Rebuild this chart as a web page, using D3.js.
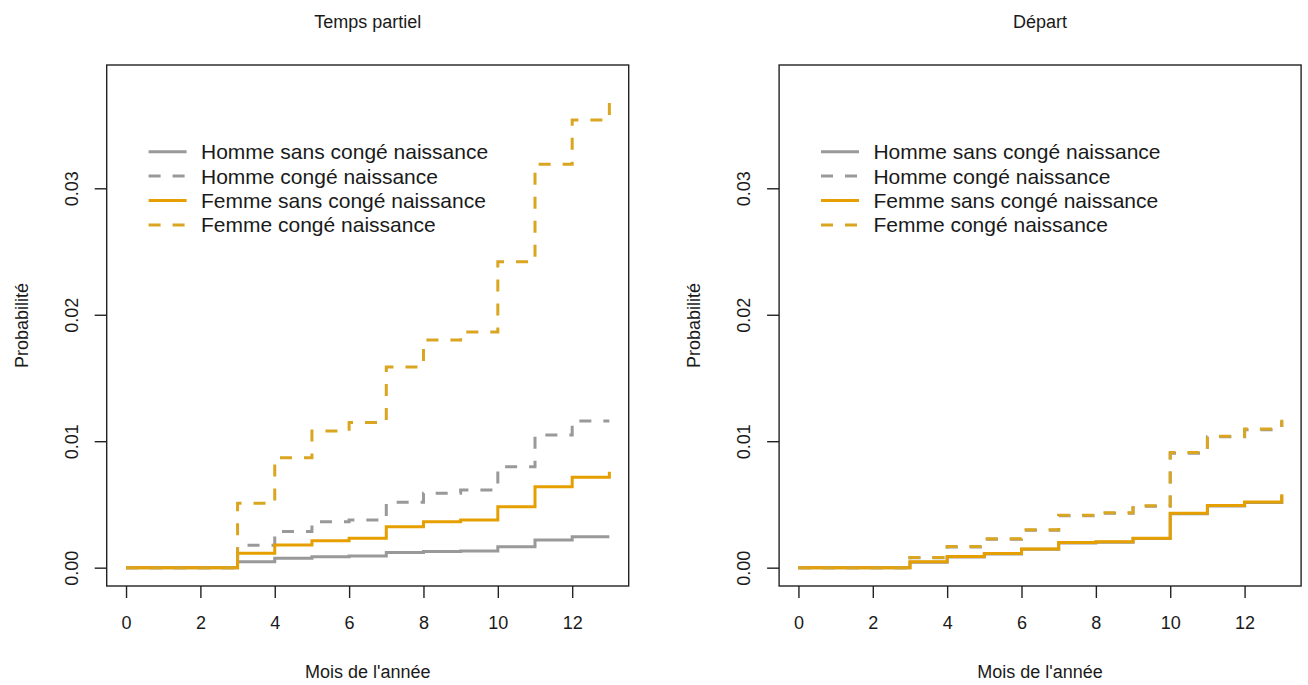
<!DOCTYPE html>
<html>
<head>
<meta charset="utf-8">
<script src="https://cdnjs.cloudflare.com/ajax/libs/d3/7.8.5/d3.min.js"></script>
<style>
  html, body { margin: 0; padding: 0; background: #fff; }
  svg text { font-family: "Liberation Sans", Arial, sans-serif; fill: #1a1a1a; }
</style>
</head>
<body>
<svg id="chart" width="1308" height="685"></svg>
<script>
// ---- data ----
const months = [0, 1, 2, 3, 4, 5, 6, 7, 8, 9, 10, 11, 12, 13];
const xTicks = [0, 2, 4, 6, 8, 10, 12];
const yTicks = [0, 0.01, 0.02, 0.03];
const panelTitles = ["Temps partiel", "Départ"];
const seriesNames = ["Homme sans congé naissance", "Homme congé naissance",
                     "Femme sans congé naissance", "Femme congé naissance"];

// Temps partiel
const tpHommeSans  = [0, 0, 0, 0.00047, 0.00074, 0.00087, 0.00092, 0.00119, 0.00127, 0.00132, 0.00166, 0.00219, 0.00245, 0.00245];
const tpHommeConge = [0, 0, 0, 0.00178, 0.00285, 0.00364, 0.00377, 0.00517, 0.00588, 0.00614, 0.00798, 0.01049, 0.01160, 0.01160];
const tpFemmeSans  = [0, 0, 0, 0.00114, 0.00180, 0.00213, 0.00232, 0.00324, 0.00364, 0.00377, 0.00482, 0.00640, 0.00714, 0.00759];
const tpFemmeConge = [0, 0, 0, 0.00510, 0.00870, 0.01080, 0.01147, 0.01586, 0.01800, 0.01864, 0.02420, 0.03190, 0.03540, 0.03730];

// Départ
const depHommeSans  = [0, 0, 0, 0.00043, 0.00084, 0.00108, 0.00145, 0.00196, 0.00200, 0.00230, 0.00426, 0.00488, 0.00515, 0.00572];
const depHommeConge = [0, 0, 0, 0.00078, 0.00163, 0.00225, 0.00296, 0.00410, 0.00430, 0.00486, 0.00905, 0.01036, 0.01090, 0.01160];
const depFemmeSans  = [0, 0, 0, 0.00046, 0.00088, 0.00112, 0.00148, 0.00199, 0.00204, 0.00233, 0.00430, 0.00492, 0.00520, 0.00580];
const depFemmeConge = [0, 0, 0, 0.00081, 0.00167, 0.00228, 0.00300, 0.00415, 0.00435, 0.00490, 0.00910, 0.01040, 0.01096, 0.01170];

const panelData = [
  [tpHommeSans, tpHommeConge, tpFemmeSans, tpFemmeConge],
  [depHommeSans, depHommeConge, depFemmeSans, depFemmeConge]
];

// ---- styles ----
const colors = ["#999999", "#999999", "#E69F00", "#DAA520"];
const dashes = [null, "12,12", null, "12,12"];

// ---- layout ----
const svg = d3.select("#chart");
const panelOffsets = [0, 672.4];
const box = { left: 106.7, right: 628.7, top: 65, bottom: 586 };

panelOffsets.forEach((off, pi) => {
  const g = svg.append("g").attr("transform", `translate(${off},0)`);

  const x = d3.scaleLinear().domain([-0.52, 13.52]).range([box.left, box.right]);
  const y = d3.scaleLinear().domain([-0.00145, 0.03975]).range([box.bottom, box.top]);

  // lines (step after, R type="s")
  const line = d3.line()
    .x((d, i) => x(months[i]))
    .y(d => y(d))
    .curve(d3.curveStepAfter);

  panelData[pi].forEach((vals, si) => {
    g.append("path")
      .datum(vals)
      .attr("d", line)
      .attr("fill", "none")
      .attr("stroke", colors[si])
      .attr("stroke-width", 3)
      .attr("stroke-dasharray", dashes[si])
      .attr("stroke-linecap", "butt")
      .attr("stroke-linejoin", "miter");
  });

  // box
  g.append("rect")
    .attr("x", box.left).attr("y", box.top)
    .attr("width", box.right - box.left).attr("height", box.bottom - box.top)
    .attr("fill", "none").attr("stroke", "#222").attr("stroke-width", 1.4);

  // x axis
  const xa = g.append("g")
    .attr("transform", `translate(0,${box.bottom})`)
    .call(d3.axisBottom(x).tickValues(xTicks).tickSize(12).tickPadding(18).tickFormat(d3.format("d")));
  xa.select(".domain").remove();
  xa.selectAll(".tick line").attr("stroke", "#222").attr("stroke-width", 1.4);
  xa.selectAll(".tick text").style("font-size", "18px").attr("fill", "#1a1a1a");

  // y axis
  const ya = g.append("g")
    .attr("transform", `translate(${box.left},0)`)
    .call(d3.axisLeft(y).tickValues(yTicks).tickSize(12).tickFormat(d3.format(".2f")));
  ya.select(".domain").remove();
  ya.selectAll(".tick line").attr("stroke", "#222").attr("stroke-width", 1.4);
  ya.selectAll(".tick text")
    .attr("x", null).attr("dy", null)
    .attr("transform", "translate(-35,0) rotate(-90)")
    .attr("text-anchor", "middle")
    .attr("dominant-baseline", "central")
    .style("font-size", "18px").attr("fill", "#1a1a1a");

  // titles
  const cx = (box.left + box.right) / 2;
  g.append("text").attr("x", cx).attr("y", 22)
    .attr("text-anchor", "middle").attr("dominant-baseline", "central")
    .style("font-size", "18px").text(panelTitles[pi]);
  g.append("text").attr("x", cx).attr("y", 672)
    .attr("text-anchor", "middle").attr("dominant-baseline", "central")
    .style("font-size", "18px").text("Mois de l'année");
  g.append("text")
    .attr("transform", `translate(22,${(box.top + box.bottom) / 2}) rotate(-90)`)
    .attr("text-anchor", "middle").attr("dominant-baseline", "central")
    .style("font-size", "18px").text("Probabilité");

  // legend
  const lg = g.append("g");
  seriesNames.forEach((name, si) => {
    const ly = 151.7 + si * 24.4;
    lg.append("line")
      .attr("x1", 148.6).attr("x2", 186.6).attr("y1", ly).attr("y2", ly)
      .attr("stroke", colors[si]).attr("stroke-width", 3)
      .attr("stroke-dasharray", dashes[si]);
    lg.append("text")
      .attr("x", 201).attr("y", ly)
      .attr("dominant-baseline", "central")
      .style("font-size", "21px").text(name);
  });
});
</script>
</body>
</html>
